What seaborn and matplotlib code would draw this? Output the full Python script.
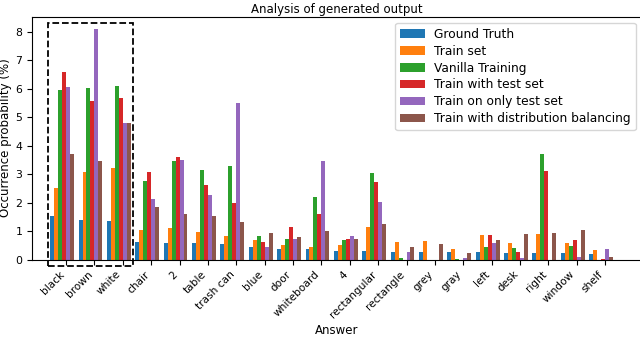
import matplotlib
matplotlib.use("Agg")
import matplotlib.pyplot as plt
from matplotlib.patches import Rectangle
import seaborn as sns
import pandas as pd

categories = ['black', 'brown', 'white', 'chair', '2', 'table', 'trash can', 'blue', 'door',
              'whiteboard', '4', 'rectangular', 'rectangle', 'grey', 'gray', 'left', 'desk',
              'right', 'window', 'shelf']
series_names = ['Ground Truth', 'Train set', 'Vanilla Training', 'Train with test set',
                'Train on only test set', 'Train with distribution balancing']

ground_truth = [1.53, 1.39, 1.34, 0.63, 0.58, 0.58, 0.54, 0.44, 0.37, 0.37, 0.31, 0.30, 0.26, 0.26, 0.25, 0.26, 0.23, 0.22, 0.22, 0.21]
train_set = [2.52, 3.06, 3.21, 1.05, 1.11, 0.97, 0.84, 0.70, 0.51, 0.45, 0.51, 1.13, 0.62, 0.65, 0.37, 0.86, 0.59, 0.90, 0.58, 0.33]
vanilla = [5.94, 6.01, 6.10, 2.75, 3.46, 3.14, 3.28, 0.83, 0.71, 2.18, 0.68, 3.03, 0.04, 0.0, 0.02, 0.44, 0.42, 3.69, 0.47, 0.0]
with_test = [6.59, 5.56, 5.66, 3.08, 3.60, 2.62, 1.98, 0.63, 1.15, 1.61, 0.73, 2.72, 0.0, 0.0, 0.0, 0.85, 0.25, 3.10, 0.68, 0.02]
only_test = [6.05, 8.10, 4.79, 2.14, 3.49, 2.27, 5.50, 0.44, 0.73, 3.46, 0.83, 2.01, 0.26, 0.0, 0.07, 0.58, 0.05, 0.0, 0.10, 0.37]
balancing = [3.70, 3.46, 4.79, 1.83, 1.59, 1.52, 1.32, 0.93, 0.79, 1.00, 0.73, 1.26, 0.44, 0.55, 0.22, 0.68, 0.90, 0.92, 1.04, 0.09]

all_series = [ground_truth, train_set, vanilla, with_test, only_test, balancing]
rows = []
for name, vals in zip(series_names, all_series):
    for cat, v in zip(categories, vals):
        rows.append({'Answer': cat, 'value': v, 'series': name})
df = pd.DataFrame(rows)

plt.rcParams['font.family'] = ['DejaVu Sans']
plt.rcParams['font.size'] = 8

fig = plt.figure(figsize=(6.4, 3.4), dpi=100)
ax = fig.add_axes([32 / 640, 1 - 259.5 / 340, 610 / 640, (259.5 - 16.7) / 340])

bw = 0.14
sns.barplot(data=df, x='Answer', y='value', hue='series', order=categories,
            hue_order=series_names, palette='tab10', saturation=1, errorbar=None,
            width=bw * 6, ax=ax, linewidth=0)
for p in ax.patches:
    p.set_x(p.get_x() - bw)

ax.set_xticks(range(len(categories)))
ax.set_xticklabels(categories, rotation=45, ha='right', fontsize=7.6)
ax.tick_params(axis='y', labelsize=7.8)
ax.set_xlabel('Answer', fontsize=8.5, labelpad=3)
ax.set_ylabel('Occurrence probability (%)', fontsize=8.5)
ax.yaxis.set_label_coords(-19.5 / 610, 0.5)
ax.set_title('Analysis of generated output', fontsize=8.5, pad=3)

rect = Rectangle((-0.62, -0.23), 2.99, 8.55, fill=False, edgecolor='black',
                 linestyle='--', linewidth=1.3, clip_on=False)
ax.add_patch(rect)
ax.set_xlim(-1.20, 20.30)
ax.set_ylim(0, 8.53)

sns.move_legend(ax, 'upper right', title=None, frameon=True, fontsize=8.8,
                labelspacing=0.32)

fig.savefig('out.png', dpi=100)
